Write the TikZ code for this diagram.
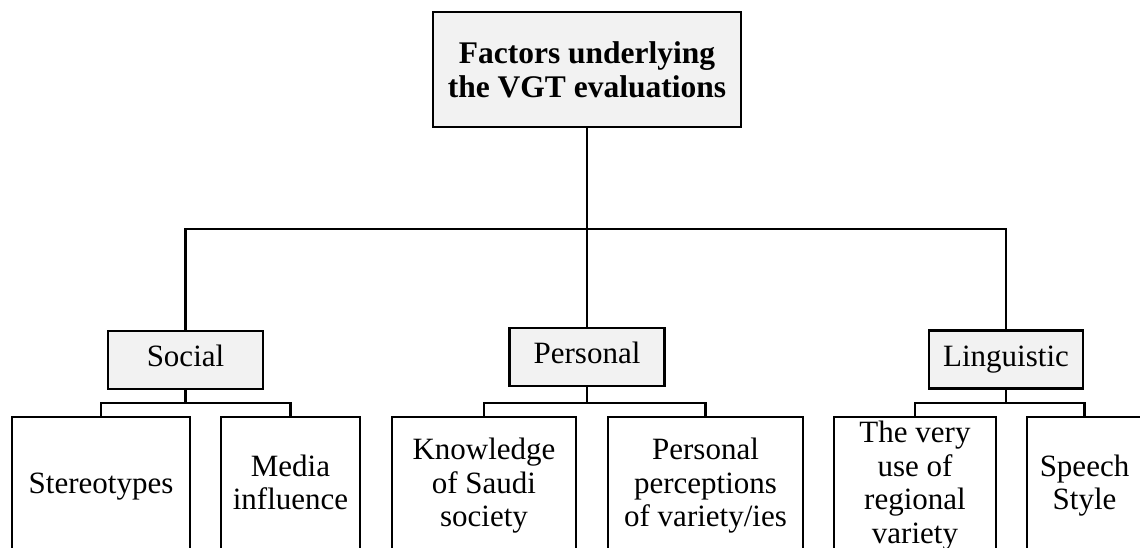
\documentclass[tikz,border=0pt]{standalone}
\usepackage{fontspec}
\setmainfont{Liberation Serif}
\newcommand{\mlines}[1]{\begin{tabular}{@{}c@{}}#1\end{tabular}}
\newcommand{\mlinestop}[1]{\begin{tabular}[t]{@{}c@{}}#1\end{tabular}}
\definecolor{boxgray}{HTML}{F2F2F2}
\tikzset{
  conn/.style={line width=2.6pt, line cap=rect},
  topbox/.style={draw, line width=2.6pt, fill=boxgray, inner sep=0pt},
  midbox/.style={draw, line width=2.6pt, fill=boxgray, inner sep=0pt,
    minimum height=58pt, font=\fontsize{31}{33.5}\selectfont},
  leafbox/.style={draw, line width=2.6pt, inner sep=0pt,
    minimum height=139pt, font=\fontsize{31}{33.5}\selectfont},
  titletext/.style={inner sep=0pt, font=\fontsize{31.5}{34}\selectfont\bfseries}
}
\begin{document}
\begin{tikzpicture}[x=1pt,y=-1pt]
\useasboundingbox (0,0) rectangle (1140,547);
\clip (0,0) rectangle (1140,547);
% top
\node[topbox, minimum width=308pt, minimum height=115pt] (top) at (587,69.5) {};
\node[titletext, anchor=base] (toptext) at (587,63) {\mlinestop{Factors underlying\\the VGT evaluations}};
% middle level
\node[midbox, minimum width=155pt] (social) at (185.5,360) {\mlines{Social}};
\node[midbox, minimum width=155pt] (personal) at (587,357) {\mlines{Personal}};
\node[midbox, minimum width=154pt] (linguistic) at (1006,359.5) {\mlines{Linguistic}};
% leaves
\node[leafbox, minimum width=178pt] (stereo) at (101,486.5) {\mlines{Stereotypes}};
\node[leafbox, minimum width=139pt] (media) at (290.5,486.5) {\mlines{Media\\influence}};
\node[leafbox, minimum width=184pt] (know) at (484,486.5) {\mlines{Knowledge\\of Saudi\\society}};
\node[leafbox, minimum width=195pt] (perc) at (705.5,486.5) {\mlines{Personal\\perceptions\\of variety/ies}};
\node[leafbox, minimum width=162pt] (very) at (915,486.5) {\mlines{The very\\use of\\regional\\variety}};
\node[leafbox, minimum width=115pt] (speech) at (1084.5,486.5) {\mlines{Speech\\Style}};
% junctions
\coordinate (hub) at (587,229);
\coordinate (sj) at (social.south |- 0,403);
\coordinate (pj) at (personal.south |- 0,403);
\coordinate (lj) at (linguistic.south |- 0,403);
% connectors
\draw[conn] (top.south) -- (hub);
\draw[conn] (social.north) |- (hub) -| (linguistic.north);
\draw[conn] (hub) -- (personal.north);
\draw[conn] (social.south) -- (sj);
\draw[conn] (stereo.north) |- (sj) -| (media.north);
\draw[conn] (personal.south) -- (pj);
\draw[conn] (know.north) |- (pj) -| (perc.north);
\draw[conn] (linguistic.south) -- (lj);
\draw[conn] (very.north) |- (lj) -| (speech.north);
\end{tikzpicture}
\end{document}
